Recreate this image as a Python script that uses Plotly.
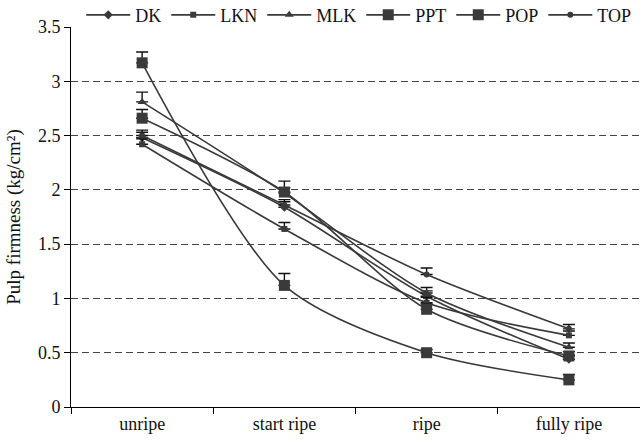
import plotly.graph_objects as go

# Ripening stages on the category axis
stages = ["unripe", "start ripe", "ripe", "fully ripe"]

# Pulp firmness (kg/cm²) per variety, with the upper error
dk = [2.48, 1.84, 1.02, 0.44]
dk_err = [0.05, 0.05, 0.05, 0.04]

lkn = [2.42, 1.64, 0.96, 0.66]
lkn_err = [0.05, 0.06, 0.05, 0.04]

mlk = [2.81, 1.97, 1.05, 0.55]
mlk_err = [0.09, 0.05, 0.05, 0.04]

ppt = [2.66, 1.98, 0.90, 0.47]
ppt_err = [0.08, 0.10, 0.05, 0.04]

pop = [3.17, 1.12, 0.50, 0.25]
pop_err = [0.10, 0.11, 0.03, 0.05]

top = [2.50, 1.86, 1.22, 0.72]
top_err = [0.05, 0.05, 0.06, 0.04]

y_ticks = [0, 0.5, 1, 1.5, 2, 2.5, 3, 3.5]

INK = "#3a3a3a"
FONT = "Liberation Serif, Times New Roman, serif"

series = [
    ("DK", dk, dk_err, "diamond", 7),
    ("LKN", lkn, lkn_err, "square", 6),
    ("MLK", mlk, mlk_err, "triangle-up", 8),
    ("PPT", ppt, ppt_err, "square", 11),
    ("POP", pop, pop_err, "square", 11),
    ("TOP", top, top_err, "circle", 6),
]

fig = go.Figure()
for name, vals, err, sym, size in series:
    fig.add_trace(go.Scatter(
        x=stages, y=vals, name=name, mode="lines+markers",
        line=dict(color=INK, width=1.6, shape="spline", smoothing=0.8),
        marker=dict(symbol=sym, size=size, color=INK),
        error_y=dict(type="data", symmetric=False, array=err,
                     arrayminus=[0] * len(err), color="#111111",
                     thickness=1.4, width=6),
    ))

fig.update_layout(
    width=640, height=445,
    margin=dict(l=71, r=0, t=27, b=38, autoexpand=False),
    paper_bgcolor="white", plot_bgcolor="white",
    font=dict(family=FONT, size=18, color="#111111"),
    showlegend=True,
    legend=dict(orientation="h", x=0.018, xanchor="left",
                yref="container", y=0.966, yanchor="middle",
                font=dict(size=18), itemwidth=44,
                bgcolor="rgba(0,0,0,0)", itemclick=False),
)
fig.update_xaxes(
    type="category", showgrid=False, showline=True, linecolor="#000000",
    linewidth=1, ticks="outside", ticklen=6, tickcolor="#000000",
    tickson="boundaries", tickfont=dict(size=18), range=[-0.5, 3.5],
    zeroline=False,
)
# dashed grid on the inner levels only (none along the top edge)
fig.update_yaxes(
    range=[0, 3.5], tickvals=y_ticks, ticktext=[f"{v:g}" for v in y_ticks],
    showline=True, linecolor="#000000", linewidth=1,
    ticks="outside", ticklen=6, tickcolor="#000000",
    showgrid=False,
    minor=dict(tickvals=y_ticks[1:-1], showgrid=True, gridcolor="#444444",
               gridwidth=1, griddash="7px,4px", ticks=""),
    zeroline=False, tickfont=dict(size=18),
    title=dict(text="Pulp firmness (kg/cm²)", font=dict(size=19), standoff=12),
)

fig.write_html("out.html")
